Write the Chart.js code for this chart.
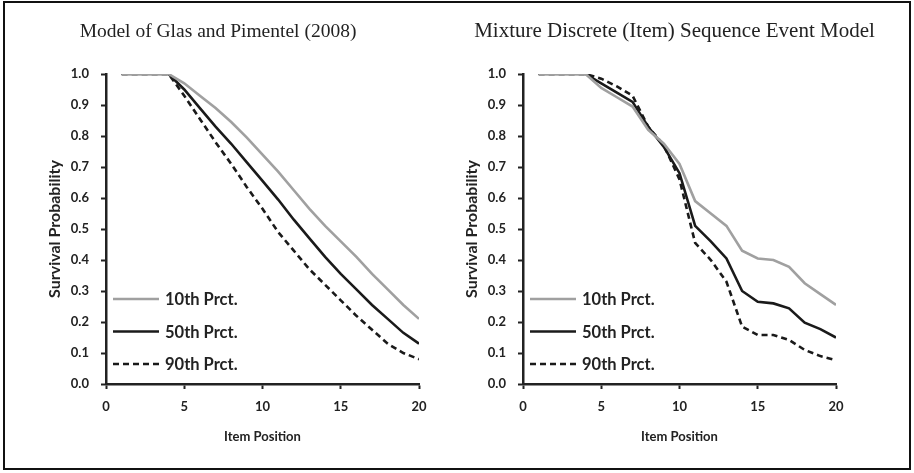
<!DOCTYPE html>
<html>
<head>
<meta charset="utf-8">
<script src="https://cdn.jsdelivr.net/npm/chart.js@4.4.1/dist/chart.umd.min.js"></script>
<style>
  html, body { margin: 0; padding: 0; background: #fff; }
  #wrap { position: relative; width: 914px; height: 473px; overflow: hidden; }
  #frame { position: absolute; left: 3px; top: 1px; width: 908px; height: 469px; box-sizing: border-box; border: 2px solid #111; }
  .panel { position: absolute; top: 0; width: 460px; height: 473px; }
</style>
</head>
<body>
<div id="wrap">
  <div id="frame"></div>
  <div class="panel" style="left:0"><canvas id="leftChart"></canvas></div>
  <div class="panel" style="left:417px"><canvas id="rightChart"></canvas></div>
</div>
<script>
// Item positions (x)
const items = [1, 2, 3, 4, 5, 6, 7, 8, 9, 10, 11, 12, 13, 14, 15, 16, 17, 18, 19, 20];
const seriesNames = ['10th Prct.', '50th Prct.', '90th Prct.'];
const xTicks = [0, 5, 10, 15, 20];

// Model of Glas and Pimentel (2008)
const glasP10 = [1, 1, 1, 1, 0.97, 0.93, 0.89, 0.845, 0.795, 0.74, 0.685, 0.625, 0.565, 0.51, 0.46, 0.41, 0.355, 0.305, 0.255, 0.21];
const glasP50 = [1, 1, 1, 1, 0.95, 0.89, 0.83, 0.775, 0.715, 0.655, 0.595, 0.53, 0.47, 0.41, 0.355, 0.305, 0.255, 0.21, 0.165, 0.13];
const glasP90 = [1, 1, 1, 1, 0.93, 0.855, 0.78, 0.71, 0.635, 0.565, 0.49, 0.43, 0.37, 0.32, 0.27, 0.22, 0.175, 0.13, 0.10, 0.08];

// Mixture Discrete (Item) Sequence Event Model
const mixP10 = [1, 1, 1, 1, 0.955, 0.925, 0.895, 0.82, 0.775, 0.71, 0.59, 0.55, 0.51, 0.43, 0.405, 0.40, 0.378, 0.325, 0.29, 0.255];
const mixP50 = [1, 1, 1, 1, 0.97, 0.94, 0.91, 0.83, 0.765, 0.68, 0.51, 0.46, 0.405, 0.30, 0.265, 0.26, 0.244, 0.198, 0.177, 0.15];
const mixP90 = [1, 1, 1, 1, 0.985, 0.96, 0.93, 0.83, 0.77, 0.66, 0.455, 0.40, 0.33, 0.185, 0.158, 0.158, 0.142, 0.11, 0.09, 0.077];

const ink = '#222';
const tickFont = { family: 'Lato', size: 13, weight: 'bold' };
const xTitleFont = { family: 'Lato', size: 13, weight: 'bold' };
const yTitleFont = { family: 'Lato', size: 16, weight: 'bold' };

// Panel title drawn in serif above the plot
const panelTitle = {
  id: 'panelTitle',
  afterDraw(chart, args, opts) {
    const ctx = chart.ctx;
    ctx.save();
    ctx.font = opts.size + 'px "Liberation Serif"';
    ctx.fillStyle = ink;
    ctx.textAlign = 'center';
    ctx.textBaseline = 'alphabetic';
    ctx.fillText(opts.text, opts.x, 37);
    ctx.restore();
  }
};

// Legend inside the plot, lower left
const insideLegend = {
  id: 'insideLegend',
  afterDatasetsDraw(chart) {
    const { ctx, chartArea } = chart;
    chart.data.datasets.forEach((ds, i) => {
      const y = chartArea.bottom - 85 + i * 32.5;
      ctx.save();
      ctx.strokeStyle = ds.borderColor;
      ctx.lineWidth = ds.borderWidth;
      ctx.setLineDash(ds.borderDash || []);
      ctx.beginPath();
      ctx.moveTo(chartArea.left + 7, y);
      ctx.lineTo(chartArea.left + 53, y);
      ctx.stroke();
      ctx.setLineDash([]);
      ctx.font = 'bold 16.5px Lato';
      ctx.fillStyle = ink;
      ctx.textBaseline = 'middle';
      ctx.fillText(ds.label, chartArea.left + 59, y + 1);
      ctx.restore();
    });
  }
};

function makeDatasets(p10, p50, p90) {
  const pts = vals => items.map((x, i) => ({ x: x, y: vals[i] }));
  return [
    { label: seriesNames[0], data: pts(p10), borderColor: '#a0a0a0', borderWidth: 2.6 },
    { label: seriesNames[1], data: pts(p50), borderColor: '#1a1a1a', borderWidth: 2.6 },
    { label: seriesNames[2], data: pts(p90), borderColor: '#1a1a1a', borderWidth: 2.6, borderDash: [6, 4] }
  ];
}

function makeChart(id, title, titleX, titleSize, datasets) {
  return new Chart(document.getElementById(id), {
    type: 'line',
    data: { datasets: datasets },
    plugins: [panelTitle, insideLegend],
    options: {
      responsive: true,
      maintainAspectRatio: false,
      animation: false,
      layout: { padding: { left: 0, right: 41, top: 74, bottom: 0 } },
      elements: { point: { radius: 0 }, line: { tension: 0 } },
      plugins: {
        legend: { display: false },
        tooltip: { enabled: false },
        panelTitle: { text: title, x: titleX, size: titleSize }
      },
      scales: {
        x: {
          type: 'linear',
          min: 0,
          max: 20,
          afterFit(s) { s.height = 89; },
          afterBuildTicks(s) { s.ticks = xTicks.map(v => ({ value: v })); },
          ticks: { font: tickFont, color: ink, padding: 10, maxRotation: 0 },
          grid: { drawOnChartArea: false, drawTicks: true, tickLength: 5, tickWidth: 2, tickColor: ink },
          border: { display: true, color: ink, width: 2.5 },
          title: { display: true, text: 'Item Position', font: xTitleFont, color: ink, padding: { top: 0, bottom: 28 } }
        },
        y: {
          min: 0,
          max: 1,
          afterFit(s) { s.width = 106; },
          ticks: { stepSize: 0.1, font: tickFont, color: ink, padding: 12, callback: v => v.toFixed(1) },
          grid: { drawOnChartArea: false, drawTicks: true, tickLength: 5, tickWidth: 2, tickColor: ink },
          border: { display: true, color: ink, width: 2.5 },
          title: { display: true, text: 'Survival Probability', font: yTitleFont, color: ink, padding: { top: 45, bottom: 0 } }
        }
      }
    }
  });
}

makeChart('leftChart', 'Model of Glas and Pimentel (2008)', 218, 19.5, makeDatasets(glasP10, glasP50, glasP90));
makeChart('rightChart', 'Mixture Discrete (Item) Sequence Event Model', 257.5, 21, makeDatasets(mixP10, mixP50, mixP90));
</script>
</body>
</html>
